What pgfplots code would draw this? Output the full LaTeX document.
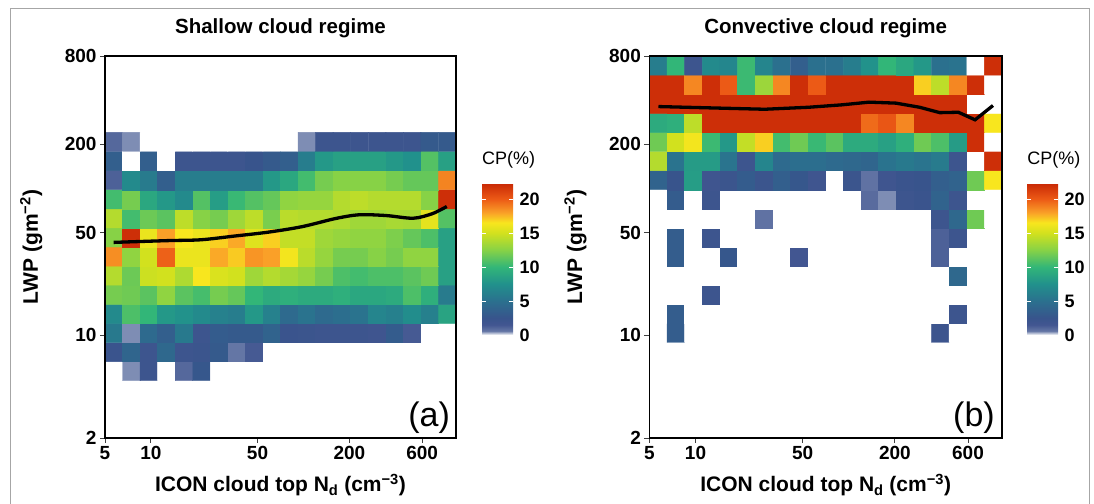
\documentclass[border=0pt]{standalone}
\usepackage{pgfplots}
\pgfplotsset{compat=1.18}
\usepackage{fontspec}
\setmainfont{Liberation Sans}

\pgfplotsset{
  colormap={cp}{rgb255(0pt)=(255,255,255) rgb255(6pt)=(100,118,165) rgb255(15pt)=(66,86,145) rgb255(25pt)=(56,84,140) rgb255(50pt)=(43,112,142) rgb255(75pt)=(33,145,140) rgb255(100pt)=(50,182,120) rgb255(125pt)=(135,210,70) rgb255(150pt)=(210,225,30) rgb255(165pt)=(248,230,30) rgb255(180pt)=(250,160,40) rgb255(200pt)=(236,90,22) rgb255(223.5pt)=(200,40,5)},
}

\begin{document}
\begin{tikzpicture}
\path[use as bounding box] (0,0) rectangle (1094pt,503pt);
\draw[black!35, line width=1pt] (10.5pt,-5pt) -- (10.5pt,494.5pt) -- (1089pt,494.5pt) -- (1089pt,-5pt);

% ---------------- (a) Shallow ----------------
\begin{axis}[
    scale only axis, width=351pt, height=382pt,
    at={(105pt,65pt)}, anchor=south west,
    xmode=log, ymode=log, xmin=5, xmax=1000, ymin=2, ymax=800,
    xtick={5,10,50,200,600}, xticklabels={5,10,50,200,600},
    ytick={2,10,50,200,800}, yticklabels={2,10,50,200,800},
    minor xtick={}, minor ytick={},
    tick align=outside, xtick pos=bottom, ytick pos=left,
    major tick length=5pt,
    tick style={black!75, line width=0.9pt},
    axis line style={line width=1.3pt},
    axis on top,
    colormap name=cp, point meta min=0, point meta max=22.35,
    tick label style={font=\fontsize{19}{19}\selectfont\bfseries},
    title style={font=\fontsize{20.5}{20.5}\selectfont\bfseries, at={(0.5,1)}, anchor=base, yshift=16pt},
    xlabel style={font=\fontsize{21}{21}\selectfont\bfseries, at={(axis description cs:0.5,-0.141)}, anchor=base},
    ylabel style={font=\fontsize{21}{21}\selectfont\bfseries, at={(axis description cs:-0.191,0.5)}, anchor=base},
    xlabel={ICON cloud top N\textsubscript{d} (cm\textsuperscript{−3})},
    ylabel={LWP (gm\textsuperscript{−2})},
    title={Shallow cloud regime},
    colorbar,
    colorbar/width=31pt,
    colorbar style={
      scale only axis, width=31pt, height=152pt,
      at={(parent axis.south east)}, anchor=south west, xshift=17.5pt, yshift=103pt,
      ytick={0,5,10,15,20}, yticklabels={0,5,10,15,20},
      ytick pos=both, yticklabel pos=right, tick align=inside,
      major tick length=4pt, tick style={white, line width=0.8pt},
      axis line style={draw=none}, axis on top,
      yticklabel style={font=\fontsize{18}{18}\selectfont\bfseries, xshift=3pt},
      title={CP(\%)},
      title style={at={(0,1)}, anchor=base west, yshift=12pt, inner sep=0pt, font=\fontsize{18}{18}\selectfont},
    },
]
\addplot[matrix plot*, mesh/cols=20, point meta=explicit] coordinates {
(5.707,5.706)[0] (7.437,5.706)[0.5] (9.696,5.706)[2] (12.64,5.706)[0] (16.47,5.706)[1] (21.47,5.706)[2.8] (27.98,5.706)[0] (36.47,5.706)[0] (47.53,5.706)[0] (61.94,5.706)[0] (80.73,5.706)[0] (105.2,5.706)[0] (137.1,5.706)[0] (178.7,5.706)[0] (232.9,5.706)[0] (303.6,5.706)[0] (395.7,5.706)[0] (515.7,5.706)[0] (672.1,5.706)[0] (876.0,5.706)[0]
(5.707,7.699)[2.3] (7.437,7.699)[4] (9.696,7.699)[2] (12.64,7.699)[4.3] (16.47,7.699)[2] (21.47,7.699)[2.2] (27.98,7.699)[3] (36.47,7.699)[0.6] (47.53,7.699)[1.4] (61.94,7.699)[0] (80.73,7.699)[0] (105.2,7.699)[0] (137.1,7.699)[0] (178.7,7.699)[0] (232.9,7.699)[0] (303.6,7.699)[0] (395.7,7.699)[0] (515.7,7.699)[0] (672.1,7.699)[0] (876.0,7.699)[0]
(5.707,10.39)[5.7] (7.437,10.39)[0.5] (9.696,10.39)[4.5] (12.64,10.39)[3.5] (16.47,10.39)[5.7] (21.47,10.39)[2] (27.98,10.39)[3.2] (36.47,10.39)[3] (47.53,10.39)[3] (61.94,10.39)[3.8] (80.73,10.39)[2.3] (105.2,10.39)[2.2] (137.1,10.39)[2] (178.7,10.39)[2] (232.9,10.39)[2] (303.6,10.39)[1.8] (395.7,10.39)[3.2] (515.7,10.39)[1.4] (672.1,10.39)[0] (876.0,10.39)[0]
(5.707,14.02)[7] (7.437,14.02)[10.8] (9.696,14.02)[10] (12.64,14.02)[8] (16.47,14.02)[7.6] (21.47,14.02)[7] (27.98,14.02)[6.3] (36.47,14.02)[6] (47.53,14.02)[8] (61.94,14.02)[6.3] (80.73,14.02)[4.5] (105.2,14.02)[5.2] (137.1,14.02)[4.5] (178.7,14.02)[4.8] (232.9,14.02)[5.2] (303.6,14.02)[6.6] (395.7,14.02)[6.2] (515.7,14.02)[7.2] (672.1,14.02)[6.2] (876.0,14.02)[8.7]
(5.707,18.91)[12] (7.437,18.91)[11.8] (9.696,18.91)[11.2] (12.64,18.91)[12.8] (16.47,18.91)[11.2] (21.47,18.91)[10.6] (27.98,18.91)[12] (36.47,18.91)[11.5] (47.53,18.91)[10] (61.94,18.91)[9.2] (80.73,18.91)[9.5] (105.2,18.91)[9.2] (137.1,18.91)[9.2] (178.7,18.91)[9.5] (232.9,18.91)[9] (303.6,18.91)[9] (395.7,18.91)[9.2] (515.7,18.91)[10.8] (672.1,18.91)[9.5] (876.0,18.91)[5.8]
(5.707,25.52)[14] (7.437,25.52)[11.7] (9.696,25.52)[14.8] (12.64,25.52)[15] (16.47,25.52)[13.8] (21.47,25.52)[16.5] (27.98,25.52)[15.3] (36.47,25.52)[15] (47.53,25.52)[13.3] (61.94,25.52)[14] (80.73,25.52)[13.5] (105.2,25.52)[13] (137.1,25.52)[12] (178.7,25.52)[10.8] (232.9,25.52)[10.5] (303.6,25.52)[10.8] (395.7,25.52)[10.8] (515.7,25.52)[11.2] (672.1,25.52)[11.8] (876.0,25.52)[8.5]
(5.707,34.43)[18.5] (7.437,34.43)[12.8] (9.696,34.43)[15] (12.64,34.43)[19.8] (16.47,34.43)[16] (21.47,34.43)[16] (27.98,34.43)[17.8] (36.47,34.43)[17.1] (47.53,34.43)[18.3] (61.94,34.43)[18] (80.73,34.43)[16.3] (105.2,34.43)[14.2] (137.1,34.43)[13] (178.7,34.43)[12] (232.9,34.43)[12] (303.6,34.43)[12.5] (395.7,34.43)[12] (515.7,34.43)[12.8] (672.1,34.43)[12.8] (876.0,34.43)[8.5]
(5.707,46.46)[12.5] (7.437,46.46)[22] (9.696,46.46)[16] (12.64,46.46)[18] (16.47,46.46)[16.5] (21.47,46.46)[16] (27.98,46.46)[17] (36.47,46.46)[17.8] (47.53,46.46)[15.5] (61.94,46.46)[17] (80.73,46.46)[14.5] (105.2,46.46)[14.5] (137.1,46.46)[13.3] (178.7,46.46)[13] (232.9,46.46)[12.8] (303.6,46.46)[12.8] (395.7,46.46)[12.2] (515.7,46.46)[11.5] (672.1,46.46)[10.8] (876.0,46.46)[8.5]
(5.707,62.68)[14] (7.437,62.68)[10.5] (9.696,62.68)[11.7] (12.64,62.68)[11.2] (16.47,62.68)[14.3] (21.47,62.68)[12.5] (27.98,62.68)[12] (36.47,62.68)[13.3] (47.53,62.68)[14.3] (61.94,62.68)[12.1] (80.73,62.68)[14.2] (105.2,62.68)[14] (137.1,62.68)[14] (178.7,62.68)[13.8] (232.9,62.68)[13.3] (303.6,62.68)[13.3] (395.7,62.68)[13.6] (515.7,62.68)[13.5] (672.1,62.68)[15.7] (876.0,62.68)[11]
(5.707,84.57)[10.5] (7.437,84.57)[12] (9.696,84.57)[9] (12.64,84.57)[8] (16.47,84.57)[7] (21.47,84.57)[11] (27.98,84.57)[8.3] (36.47,84.57)[10.2] (47.53,84.57)[11] (61.94,84.57)[11.5] (80.73,84.57)[12.8] (105.2,84.57)[13] (137.1,84.57)[13] (178.7,84.57)[14] (232.9,84.57)[14.3] (303.6,84.57)[14] (395.7,84.57)[14] (515.7,84.57)[14] (672.1,84.57)[12.5] (876.0,84.57)[22]
(5.707,114.1)[1.2] (7.437,114.1)[7] (9.696,114.1)[5.8] (12.64,114.1)[3.5] (16.47,114.1)[6] (21.47,114.1)[6] (27.98,114.1)[6] (36.47,114.1)[6] (47.53,114.1)[6] (61.94,114.1)[8] (80.73,114.1)[9] (105.2,114.1)[10.5] (137.1,114.1)[12] (178.7,114.1)[12.5] (232.9,114.1)[12.5] (303.6,114.1)[12.5] (395.7,114.1)[12] (515.7,114.1)[11.5] (672.1,114.1)[11.5] (876.0,114.1)[18.8]
(5.707,154.0)[3.5] (7.437,154.0)[0] (9.696,154.0)[3.5] (12.64,154.0)[0] (16.47,154.0)[2] (21.47,154.0)[2] (27.98,154.0)[2] (36.47,154.0)[2] (47.53,154.0)[2.5] (61.94,154.0)[3] (80.73,154.0)[3.5] (105.2,154.0)[6] (137.1,154.0)[8] (178.7,154.0)[8.5] (232.9,154.0)[8.5] (303.6,154.0)[8.5] (395.7,154.0)[8] (515.7,154.0)[7.5] (672.1,154.0)[11] (876.0,154.0)[8.5]
(5.707,207.8)[1] (7.437,207.8)[0.5] (9.696,207.8)[0] (12.64,207.8)[0] (16.47,207.8)[0] (21.47,207.8)[0] (27.98,207.8)[0] (36.47,207.8)[0] (47.53,207.8)[0] (61.94,207.8)[0] (80.73,207.8)[0] (105.2,207.8)[0.5] (137.1,207.8)[2] (178.7,207.8)[2] (232.9,207.8)[2] (303.6,207.8)[2] (395.7,207.8)[2] (515.7,207.8)[2] (672.1,207.8)[3] (876.0,207.8)[3]
};
\addplot[black, line width=3.3pt, smooth] coordinates {(5.7,43) (12.8,44.2) (21.3,44.8) (35.4,47.5) (58.9,50.5) (97.7,55) (162,62.5) (232,66.3) (349,65.5) (524,62.8) (700,67.5) (870,75.5)};
\node[anchor=base east, inner sep=0pt, font=\fontsize{34}{34}\selectfont] at (rel axis cs:0.983,0.029) {(a)};
\end{axis}

% ---------------- (b) Convective ----------------
\begin{axis}[
    scale only axis, width=352.6pt, height=382pt,
    at={(649.4pt,65pt)}, anchor=south west,
    xmode=log, ymode=log, xmin=5, xmax=1000, ymin=2, ymax=800,
    xtick={5,10,50,200,600}, xticklabels={5,10,50,200,600},
    ytick={2,10,50,200,800}, yticklabels={2,10,50,200,800},
    minor xtick={}, minor ytick={},
    tick align=outside, xtick pos=bottom, ytick pos=left,
    major tick length=5pt,
    tick style={black!75, line width=0.9pt},
    axis line style={line width=1.3pt},
    axis on top,
    colormap name=cp, point meta min=0, point meta max=22.35,
    tick label style={font=\fontsize{19}{19}\selectfont\bfseries},
    title style={font=\fontsize{20.5}{20.5}\selectfont\bfseries, at={(0.5,1)}, anchor=base, yshift=16pt},
    xlabel style={font=\fontsize{21}{21}\selectfont\bfseries, at={(axis description cs:0.5,-0.141)}, anchor=base},
    ylabel style={font=\fontsize{21}{21}\selectfont\bfseries, at={(axis description cs:-0.191,0.5)}, anchor=base},
    xlabel={ICON cloud top N\textsubscript{d} (cm\textsuperscript{−3})},
    ylabel={LWP (gm\textsuperscript{−2})},
    title={Convective cloud regime},
    colorbar,
    colorbar/width=31pt,
    colorbar style={
      scale only axis, width=31pt, height=152pt,
      at={(parent axis.south east)}, anchor=south west, xshift=16.5pt, yshift=103pt,
      ytick={0,5,10,15,20}, yticklabels={0,5,10,15,20},
      ytick pos=both, yticklabel pos=right, tick align=inside,
      major tick length=4pt, tick style={white, line width=0.8pt},
      axis line style={draw=none}, axis on top,
      yticklabel style={font=\fontsize{18}{18}\selectfont\bfseries, xshift=3pt},
      title={CP(\%)},
      title style={at={(0,1)}, anchor=base west, yshift=12pt, inner sep=0pt, font=\fontsize{18}{18}\selectfont},
    },
]
\addplot[matrix plot*, mesh/cols=20, point meta=explicit] coordinates {
(5.707,10.39)[0] (7.437,10.39)[3.3] (9.696,10.39)[0] (12.64,10.39)[0] (16.47,10.39)[0] (21.47,10.39)[0] (27.98,10.39)[0] (36.47,10.39)[0] (47.53,10.39)[0] (61.94,10.39)[0] (80.73,10.39)[0] (105.2,10.39)[0] (137.1,10.39)[0] (178.7,10.39)[0] (232.9,10.39)[0] (303.6,10.39)[0] (395.7,10.39)[2] (515.7,10.39)[0] (672.1,10.39)[0] (876.0,10.39)[0]
(5.707,14.02)[0] (7.437,14.02)[3.3] (9.696,14.02)[0] (12.64,14.02)[0] (16.47,14.02)[0] (21.47,14.02)[0] (27.98,14.02)[0] (36.47,14.02)[0] (47.53,14.02)[0] (61.94,14.02)[0] (80.73,14.02)[0] (105.2,14.02)[0] (137.1,14.02)[0] (178.7,14.02)[0] (232.9,14.02)[0] (303.6,14.02)[0] (395.7,14.02)[0] (515.7,14.02)[2] (672.1,14.02)[0] (876.0,14.02)[0]
(5.707,18.91)[0] (7.437,18.91)[0] (9.696,18.91)[0] (12.64,18.91)[2] (16.47,18.91)[0] (21.47,18.91)[0] (27.98,18.91)[0] (36.47,18.91)[0] (47.53,18.91)[0] (61.94,18.91)[0] (80.73,18.91)[0] (105.2,18.91)[0] (137.1,18.91)[0] (178.7,18.91)[0] (232.9,18.91)[0] (303.6,18.91)[0] (395.7,18.91)[0] (515.7,18.91)[0] (672.1,18.91)[0] (876.0,18.91)[0]
(5.707,25.52)[0] (7.437,25.52)[0] (9.696,25.52)[0] (12.64,25.52)[0] (16.47,25.52)[0] (21.47,25.52)[0] (27.98,25.52)[0] (36.47,25.52)[0] (47.53,25.52)[0] (61.94,25.52)[0] (80.73,25.52)[0] (105.2,25.52)[0] (137.1,25.52)[0] (178.7,25.52)[0] (232.9,25.52)[0] (303.6,25.52)[0] (395.7,25.52)[0] (515.7,25.52)[4.3] (672.1,25.52)[0] (876.0,25.52)[0]
(5.707,34.43)[0] (7.437,34.43)[3.3] (9.696,34.43)[0] (12.64,34.43)[0] (16.47,34.43)[2.8] (21.47,34.43)[0] (27.98,34.43)[0] (36.47,34.43)[0] (47.53,34.43)[1.5] (61.94,34.43)[0] (80.73,34.43)[0] (105.2,34.43)[0] (137.1,34.43)[0] (178.7,34.43)[0] (232.9,34.43)[0] (303.6,34.43)[0] (395.7,34.43)[1.2] (515.7,34.43)[0] (672.1,34.43)[0] (876.0,34.43)[0]
(5.707,46.46)[0] (7.437,46.46)[3.3] (9.696,46.46)[0] (12.64,46.46)[2] (16.47,46.46)[0] (21.47,46.46)[0] (27.98,46.46)[0] (36.47,46.46)[0] (47.53,46.46)[0] (61.94,46.46)[0] (80.73,46.46)[0] (105.2,46.46)[0] (137.1,46.46)[0] (178.7,46.46)[0] (232.9,46.46)[0] (303.6,46.46)[0] (395.7,46.46)[1.2] (515.7,46.46)[2] (672.1,46.46)[0] (876.0,46.46)[0]
(5.707,62.68)[0] (7.437,62.68)[0] (9.696,62.68)[0] (12.64,62.68)[0] (16.47,62.68)[0] (21.47,62.68)[0] (27.98,62.68)[0.7] (36.47,62.68)[0] (47.53,62.68)[0] (61.94,62.68)[0] (80.73,62.68)[0] (105.2,62.68)[0] (137.1,62.68)[0] (178.7,62.68)[0] (232.9,62.68)[0] (303.6,62.68)[0] (395.7,62.68)[2] (515.7,62.68)[4.3] (672.1,62.68)[11.8] (876.0,62.68)[0]
(5.707,84.57)[0] (7.437,84.57)[3.2] (9.696,84.57)[0] (12.64,84.57)[2] (16.47,84.57)[0] (21.47,84.57)[0] (27.98,84.57)[0] (36.47,84.57)[0] (47.53,84.57)[0] (61.94,84.57)[0] (80.73,84.57)[0] (105.2,84.57)[0] (137.1,84.57)[0.9] (178.7,84.57)[0.5] (232.9,84.57)[2] (303.6,84.57)[2.3] (395.7,84.57)[3.8] (515.7,84.57)[2] (672.1,84.57)[0] (876.0,84.57)[0]
(5.707,114.1)[3.8] (7.437,114.1)[2.5] (9.696,114.1)[8.3] (12.64,114.1)[1.8] (16.47,114.1)[2.2] (21.47,114.1)[3.2] (27.98,114.1)[2.2] (36.47,114.1)[3.5] (47.53,114.1)[2.8] (61.94,114.1)[1.8] (80.73,114.1)[0] (105.2,114.1)[2.2] (137.1,114.1)[0.7] (178.7,114.1)[1.8] (232.9,114.1)[2.3] (303.6,114.1)[2.5] (395.7,114.1)[3.5] (515.7,114.1)[3.8] (672.1,114.1)[11.8] (876.0,114.1)[16.5]
(5.707,154.0)[14] (7.437,154.0)[5.2] (9.696,154.0)[8.2] (12.64,154.0)[8.2] (16.47,154.0)[5.3] (21.47,154.0)[2] (27.98,154.0)[6.6] (36.47,154.0)[4.5] (47.53,154.0)[4.8] (61.94,154.0)[4.8] (80.73,154.0)[4.5] (105.2,154.0)[4.3] (137.1,154.0)[4] (178.7,154.0)[5.2] (232.9,154.0)[5.7] (303.6,154.0)[5.3] (395.7,154.0)[5.8] (515.7,154.0)[2] (672.1,154.0)[0] (876.0,154.0)[22]
(5.707,207.8)[11.8] (7.437,207.8)[15] (9.696,207.8)[16.3] (12.64,207.8)[10.3] (16.47,207.8)[8] (21.47,207.8)[14.5] (27.98,207.8)[17] (36.47,207.8)[10.5] (47.53,207.8)[11.8] (61.94,207.8)[10.2] (80.73,207.8)[11.2] (105.2,207.8)[9.2] (137.1,207.8)[9.2] (178.7,207.8)[8.5] (232.9,207.8)[9.5] (303.6,207.8)[11.8] (395.7,207.8)[10.8] (515.7,207.8)[8.2] (672.1,207.8)[22] (876.0,207.8)[0]
(5.707,280.3)[9.2] (7.437,280.3)[9.5] (9.696,280.3)[14.3] (12.64,280.3)[22] (16.47,280.3)[22] (21.47,280.3)[22] (27.98,280.3)[22] (36.47,280.3)[22] (47.53,280.3)[22] (61.94,280.3)[22] (80.73,280.3)[22] (105.2,280.3)[22] (137.1,280.3)[19.5] (178.7,280.3)[20.2] (232.9,280.3)[18.7] (303.6,280.3)[22] (395.7,280.3)[22] (515.7,280.3)[22] (672.1,280.3)[22] (876.0,280.3)[16.5]
(5.707,378.3)[22] (7.437,378.3)[22] (9.696,378.3)[22] (12.64,378.3)[22] (16.47,378.3)[22] (21.47,378.3)[22] (27.98,378.3)[22] (36.47,378.3)[22] (47.53,378.3)[22] (61.94,378.3)[22] (80.73,378.3)[22] (105.2,378.3)[22] (137.1,378.3)[22] (178.7,378.3)[22] (232.9,378.3)[22] (303.6,378.3)[22] (395.7,378.3)[22] (515.7,378.3)[22] (672.1,378.3)[0] (876.0,378.3)[0]
(5.707,510.4)[22] (7.437,510.4)[22] (9.696,510.4)[18.7] (12.64,510.4)[22] (16.47,510.4)[20] (21.47,510.4)[10.3] (27.98,510.4)[13.2] (36.47,510.4)[18.7] (47.53,510.4)[22] (61.94,510.4)[20] (80.73,510.4)[22] (105.2,510.4)[22] (137.1,510.4)[22] (178.7,510.4)[22] (232.9,510.4)[22] (303.6,510.4)[17] (395.7,510.4)[14.3] (515.7,510.4)[18.7] (672.1,510.4)[22] (876.0,510.4)[0]
(5.707,688.6)[6] (7.437,688.6)[10] (9.696,688.6)[2] (12.64,688.6)[7] (16.47,688.6)[6.7] (21.47,688.6)[10.3] (27.98,688.6)[6.6] (36.47,688.6)[5] (47.53,688.6)[3.5] (61.94,688.6)[5] (80.73,688.6)[5] (105.2,688.6)[6] (137.1,688.6)[7.6] (178.7,688.6)[10] (232.9,688.6)[9] (303.6,688.6)[8] (395.7,688.6)[5] (515.7,688.6)[5.2] (672.1,688.6)[0] (876.0,688.6)[22]
};
\addplot[black, line width=3.3pt] coordinates {(5.73,362) (11.9,355) (28.3,347) (54.6,358) (90.4,372) (135.6,388) (203,382) (290,358) (393,329) (519,331) (667,294) (873,368)};
\node[anchor=base east, inner sep=0pt, font=\fontsize{34}{34}\selectfont] at (rel axis cs:0.980,0.029) {(b)};
\end{axis}
\end{tikzpicture}
\end{document}
